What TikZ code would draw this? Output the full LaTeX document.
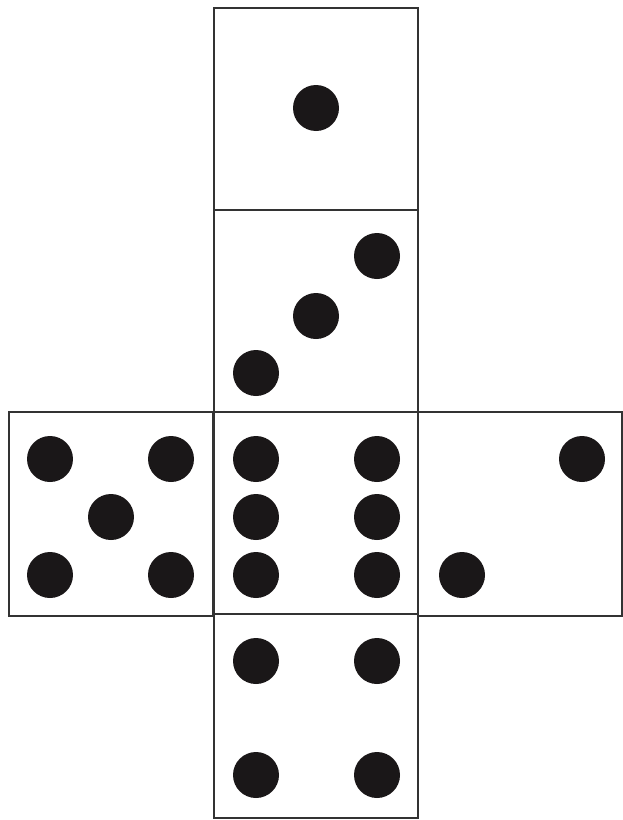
\documentclass[tikz,border=0pt]{standalone}
\usepackage{tikz}
\usetikzlibrary{positioning}
\definecolor{pipblack}{HTML}{1A1718}
\definecolor{edgegrey}{HTML}{333333}

\begin{document}
\begin{tikzpicture}[x=0.05cm,y=-0.05cm,
  face/.style={draw=edgegrey,line width=1.6pt,minimum size=10.2cm,inner sep=0pt,fill=white},
  pip/.style={circle,fill=pipblack,minimum size=2.3cm,inner sep=0pt}]
  \useasboundingbox (0,0) rectangle (623,820);
  % the six faces of the net
  \node[face] (one) at (316,110) {};
  \node[face] (three) at (316,312) {};
  \node[face] (five) at (111,514) {};
  \node[face] (six) at (316,514) {};
  \node[face] (two) at (520,514) {};
  \node[face] (four) at (316,716) {};
  % pips
  \node[pip] (p1) at (316,108) {};
  \node[pip] (p3a) at (377,256) {};
  \node[pip] (p3b) at (316,316) {};
  \node[pip] (p3c) at (256,373) {};
  \foreach \x/\y [count=\i] in {50/459,171/459,111/517,50/575,171/575}
    \node[pip] (p5\i) at (\x,\y) {};
  \foreach \x/\y [count=\i] in {256/459,377/459,256/517,377/517,256/575,377/575}
    \node[pip] (p6\i) at (\x,\y) {};
  \node[pip] (p2a) at (582,459) {};
  \node[pip] (p2b) at (462,575) {};
  \foreach \x/\y [count=\i] in {256/661,377/661,256/775,377/775}
    \node[pip] (p4\i) at (\x,\y) {};
\end{tikzpicture}
\end{document}
